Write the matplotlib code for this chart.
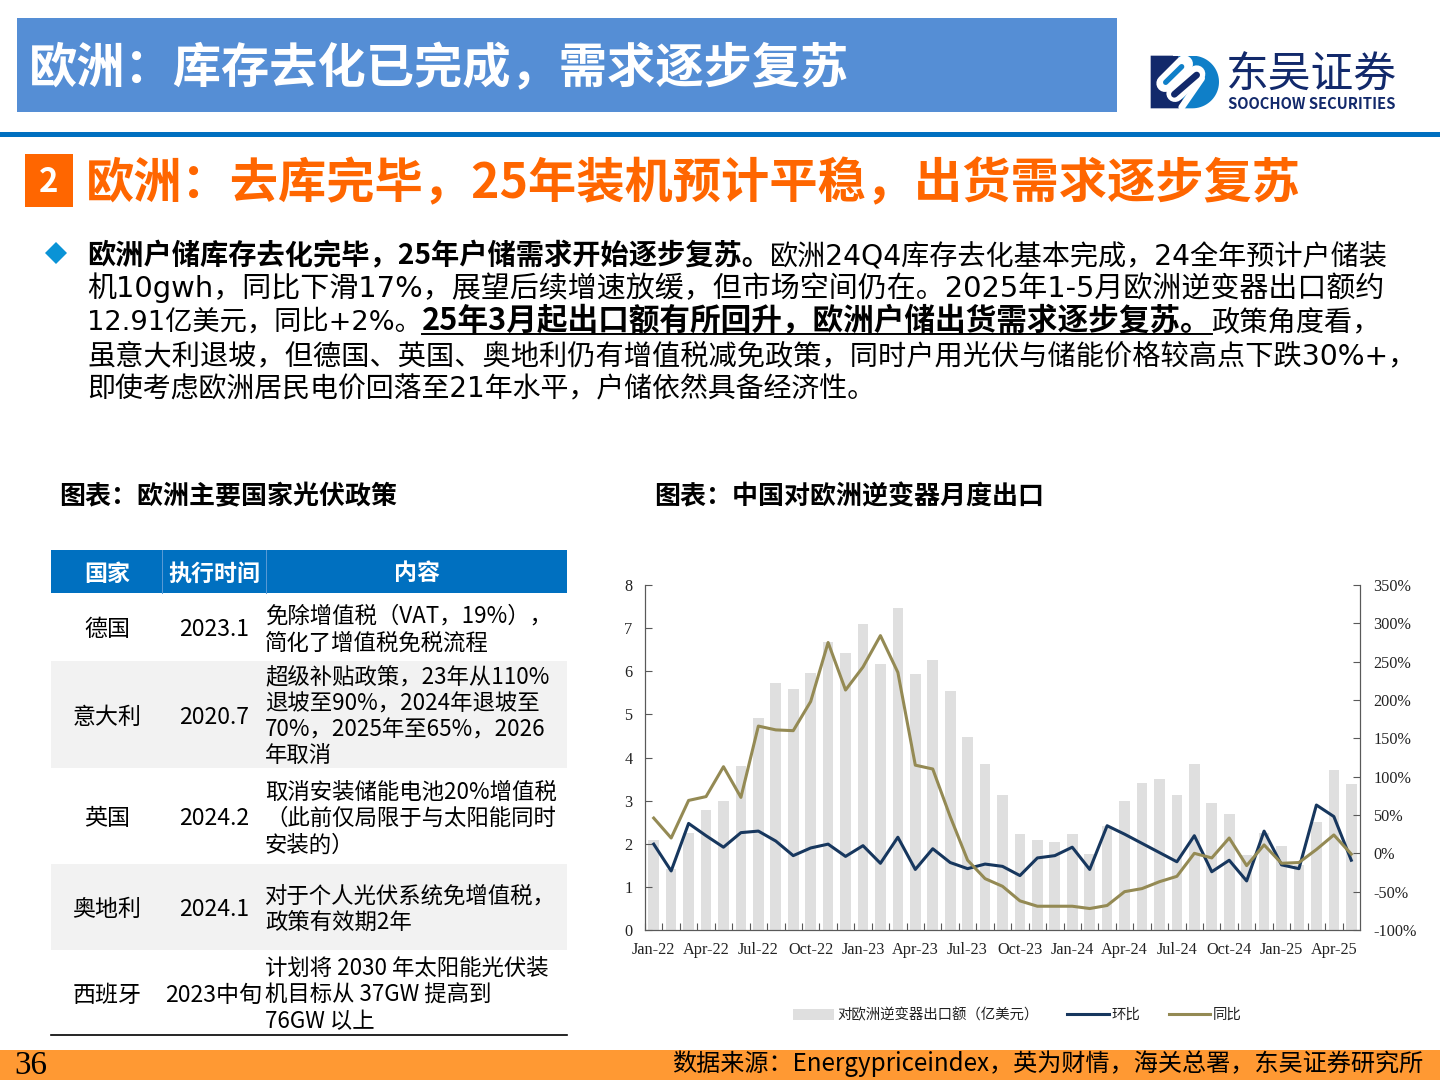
import matplotlib
matplotlib.use('Agg')
import matplotlib.pyplot as plt
from matplotlib.patches import Rectangle, Polygon
from matplotlib.lines import Line2D
import numpy as np

plt.rcParams['font.family'] = ['Noto Sans CJK SC', 'DejaVu Sans']
SERIF = ['Liberation Serif', 'Noto Sans CJK SC']
BODY_FONT = ['DejaVu Sans', 'Noto Sans CJK SC']

# chart data, Jan-22 .. May-25
export_value = [2.08, 1.42, 2.25, 2.78, 3.00, 3.80, 4.92, 5.73, 5.59, 5.96, 6.68, 6.42, 7.09, 6.17,
                7.47, 5.93, 6.27, 5.55, 4.47, 3.86, 3.14, 2.23, 2.09, 2.05, 2.23, 1.77, 2.42, 2.99,
                3.42, 3.51, 3.13, 3.86, 2.94, 2.69, 1.75, 2.26, 1.94, 1.50, 2.50, 3.71, 3.38]
mom = [12, -23, 39, 23, 8, 27, 29, 16, -3, 7, 12, -4, 10, -13, 21, -21, 6, -12, -20, -14,
       -17, -29, -6, -3, 8, -21, 36, 25, 13, 1, -11, 23, -24, -9, -36, 29, -15, -20, 63, 48, -9]
yoy = [46, 20, 69, 74, 113, 73, 166, 161, 160, 198, 275, 213, 243, 284, 236, 115, 110, 48, -9, -33,
       -43, -62, -69, -69, -69, -72, -68, -50, -46, -37, -30, 0, -6, 20, -16, 11, -13, -12, 5, 24, -1]
x_labels = ['Jan-22', 'Apr-22', 'Jul-22', 'Oct-22', 'Jan-23', 'Apr-23', 'Jul-23', 'Oct-23',
            'Jan-24', 'Apr-24', 'Jul-24', 'Oct-24', 'Jan-25', 'Apr-25']
left_ticks = [0, 1, 2, 3, 4, 5, 6, 7, 8]
right_ticks = [-100, -50, 0, 50, 100, 150, 200, 250, 300, 350]
legend_labels = ['对欧洲逆变器出口额（亿美元）', '环比', '同比']

# page text
page_title = '欧洲：库存去化已完成，需求逐步复苏'
sub_title = '欧洲：去库完毕，25年装机预计平稳，出货需求逐步复苏'
body_lines = [
    [('欧洲户储库存去化完毕，25年户储需求开始逐步复苏。', 'bold', False), ('欧洲24Q4库存去化基本完成，24全年预计户储装', 'normal', False)],
    [('机10gwh，同比下滑17%，展望后续增速放缓，但市场空间仍在。2025年1-5月欧洲逆变器出口额约', 'normal', False)],
    [('12.91亿美元，同比+2%。', 'normal', False), ('25年3月起出口额有所回升，欧洲户储出货需求逐步复苏。', 'bold', True), ('政策角度看，', 'normal', False)],
    [('虽意大利退坡，但德国、英国、奥地利仍有增值税减免政策，同时户用光伏与储能价格较高点下跌30%+，', 'normal', False)],
    [('即使考虑欧洲居民电价回落至21年水平，户储依然具备经济性。', 'normal', False)],
]
table_head = ['国家', '执行时间', '内容']
table_country = ['德国', '意大利', '英国', '奥地利', '西班牙']
table_date = ['2023.1', '2020.7', '2024.2', '2024.1', '2023中旬']
table_content = [
    ['免除增值税（VAT，19%），', '简化了增值税免税流程'],
    ['超级补贴政策，23年从110%', '退坡至90%，2024年退坡至', '70%，2025年至65%，2026', '年取消'],
    ['取消安装储能电池20%增值税', '（此前仅局限于与太阳能同时', '安装的）'],
    ['对于个人光伏系统免增值税，', '政策有效期2年'],
    ['计划将 2030 年太阳能光伏装', '机目标从 37GW 提高到', '76GW 以上'],
]

fig = plt.figure(figsize=(14.4, 10.8), dpi=100)

# full page layer in pixel coords
bg = fig.add_axes([0, 0, 1, 1])
bg.set_xlim(0, 1440)
bg.set_ylim(1080, 0)
bg.axis('off')


def box(x0, y0, x1, y1, color):
    bg.add_patch(Rectangle((x0, y0), x1 - x0, y1 - y0, facecolor=color, edgecolor='none'))


def txt(x, y, s, px, **kw):
    kw.setdefault('va', 'center')
    return bg.text(x, y, s, fontsize=px * 0.72, **kw)


box(17, 18, 1117, 112, '#558ED5')
box(0, 132, 1440, 137, '#0070C0')
box(25, 154, 73, 207, '#FF6600')
txt(29, 69, page_title, 48.3, color='white', fontweight='bold')
txt(49, 182, '2', 33, color='white', fontweight='bold', ha='center')
txt(86, 184, sub_title, 48.25, color='#FF6600', fontweight='bold')

# body text, runs placed one after the other
# the original is justified, so each run gets its own size to hit the same line ends
bg.add_patch(Polygon([(56, 242), (67, 253), (56, 264), (45, 253)], facecolor='#0A93D6', edgecolor='none'))
renderer = fig.canvas.get_renderer()
baseline = [264, 297, 330, 364, 397]
run_px = [[28.25, 28.15], [29.0], [27.3, 30.7, 28.25], [28.2], [27.95]]
for line, y, sizes in zip(body_lines, baseline, run_px):
    x = 87
    for (s, weight, under), px in zip(line, sizes):
        if weight == 'bold':
            t = txt(x, y, s, px, color='black', fontweight='bold', va='baseline')
        else:
            t = txt(x, y, s, px, color='black', family=BODY_FONT, va='baseline')
        w = t.get_window_extent(renderer).width
        if under:
            bg.plot([x, x + w], [y + 4, y + 4], color='black', lw=1.4)
        x += w

txt(59, 497, '图表：欧洲主要国家光伏政策', 26, fontweight='bold', color='black')
txt(654, 497, '图表：中国对欧洲逆变器月度出口', 26, fontweight='bold', color='black')

# table
row_edges = [593, 661, 768, 864, 950, 1035]
box(51, 550, 567, 593, '#0070C0')
for xs in (162, 266):
    bg.plot([xs, xs], [550, 593], color='#5B9BD5', lw=0.7)
for head, xc in zip(table_head, (107, 214, 417)):
    txt(xc, 574, head, 23, color='white', fontweight='bold', ha='center')
for i in range(5):
    y0, y1 = row_edges[i], row_edges[i + 1]
    if i in (1, 3):
        box(51, y0, 567, y1, '#F2F2F2')
    yc = (y0 + y1) / 2
    txt(107, yc + 2.5, table_country[i], 23, color='black', ha='center')
    txt(214, yc + 2.5, table_date[i], 23, color='black', ha='center')
    n = len(table_content[i])
    for k, s in enumerate(table_content[i]):
        txt(265, yc + 2.5 + (k - (n - 1) / 2) * 26.5, s, 22.4, color='black')
bg.plot([51, 567], [1035, 1035], color='black', lw=1.2)

# footer
box(0, 1050, 1440, 1080, '#FF9933')
txt(14, 1066, '36', 33, family=SERIF, color='black')
txt(1423, 1064, '数据来源：Energypriceindex，英为财情，海关总署，东吴证券研究所', 24.15, color='black', ha='right')


# logo, rough layers
def lx(dx):
    return 1145 + dx / 3


def ly(dy):
    return 50 + dy / 3


NAVY = '#12296B'
BLUE = '#0F7FC8'
theta = np.linspace(-90, 90, 40) * np.pi / 180
arc = [(lx(142 + 80 * np.cos(a)), ly(96 + 79 * np.sin(a))) for a in theta]
bg.add_patch(Polygon([(lx(100), ly(17))] + arc + [(lx(100), ly(175))], facecolor=BLUE, edgecolor='none'))
bg.add_patch(Polygon([(lx(17), ly(17)), (lx(100), ly(17)), (lx(115), ly(175)), (lx(17), ly(175))],
                     facecolor=NAVY, edgecolor='none'))


def stroke(p0, p1, width, color):
    bg.add_line(Line2D([lx(p0[0]), lx(p1[0])], [ly(p0[1]), ly(p1[1])], color=color, lw=width * 0.24,
                       solid_capstyle='round'))


stroke((60, 100), (118, 42), 52, 'white')
stroke((90, 130), (155, 72), 52, 'white')
stroke((170, 85), (110, 172), 20, 'white')
stroke((62, 97), (110, 50), 16, BLUE)
stroke((88, 133), (155, 75), 20, NAVY)
bg.add_patch(Rectangle((lx(85), ly(0)), 30, ly(17) - ly(0), facecolor='white', edgecolor='none'))
txt(1226, 76, '东吴证券', 42.8, color=NAVY)
txt(1228, 104, 'SOOCHOW SECURITIES', 14.8, color=NAVY, fontweight='bold')

# chart
ax = fig.add_axes([645 / 1440, (1080 - 930) / 1080, 715 / 1440, 345 / 1080])
ax.patch.set_alpha(0)
ax2 = ax.twinx()
xpos = np.arange(len(export_value))
bars = ax.bar(xpos, export_value, width=0.61, color='#DFDFDF', label=legend_labels[0])
line_m, = ax2.plot(xpos, mom, color='#17375E', lw=2.2, label=legend_labels[1])
line_y, = ax2.plot(xpos, yoy, color='#948A54', lw=2.2, label=legend_labels[2])

ax.set_xlim(-0.5, len(export_value) - 0.5)
ax.set_ylim(0, 8)
ax2.set_ylim(-100, 350)
ax.set_yticks(left_ticks)
ax2.set_yticks(right_ticks)
ax2.set_yticklabels([f'{v}%' for v in right_ticks])
ax.set_xticks(xpos - 0.5)
ax.set_xticklabels([])
ax.set_xticks(xpos[::3], labels=x_labels, minor=True)
ax.tick_params(axis='x', which='major', direction='in', length=5, width=0.8, color='#595959')
ax.tick_params(axis='x', which='minor', length=0, pad=9)
ax.tick_params(axis='y', direction='in', length=5, width=0.8, color='#595959', pad=9)
ax2.tick_params(axis='y', direction='in', length=5, width=0.8, color='#595959', pad=9.5)
for a in (ax, ax2):
    a.spines['top'].set_visible(False)
    for side in ('left', 'right', 'bottom'):
        a.spines[side].set_color('#595959')
        a.spines[side].set_linewidth(0.8)
    for lab in a.get_xticklabels(which='both') + a.get_yticklabels():
        lab.set_fontfamily(SERIF)
        lab.set_fontsize(11.7)
        lab.set_color('#222222')

leg = ax.legend([bars, line_m, line_y], legend_labels, loc='center', ncol=3, frameon=False,
                bbox_to_anchor=(1017.5 / 1440, (1080 - 1015) / 1080), bbox_transform=fig.transFigure,
                fontsize=10.4, handlelength=2.85, handletextpad=0.2, columnspacing=2.0,
                handleheight=0.8, labelcolor='#222222')

fig.savefig('out.png', dpi=100)
